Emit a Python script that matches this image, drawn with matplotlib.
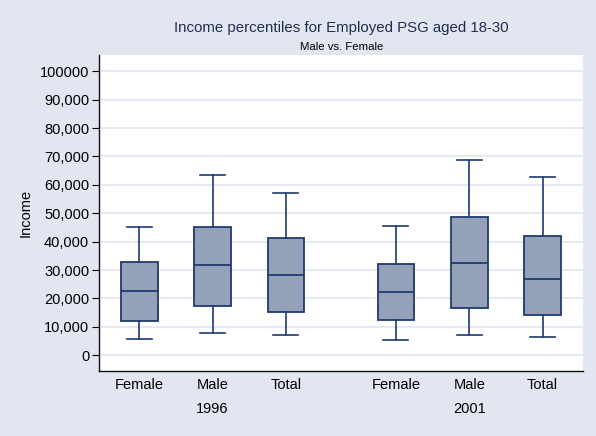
import matplotlib
matplotlib.use('Agg')
import matplotlib.pyplot as plt
import matplotlib.transforms as mtransforms

plt.rcParams['font.family'] = ['Liberation Sans', 'DejaVu Sans']

# Box plot statistics
groups = ['Female', 'Male', 'Total', 'Female', 'Male', 'Total']
years = ['1996', '2001']
whislo = [5700, 8000, 7300, 5500, 7100, 6400]
q1 = [12000, 17500, 15100, 12400, 16500, 14300]
med = [22500, 31700, 28400, 22300, 32400, 27000]
q3 = [32800, 45100, 41300, 32000, 48600, 42000]
whishi = [45200, 63500, 57100, 45600, 68700, 62900]
positions = [1, 2, 3, 4.5, 5.5, 6.5]

yticks = [0, 10000, 20000, 30000, 40000, 50000, 60000, 70000, 80000, 90000, 100000]
ytick_labels = ['0', '10,000', '20,000', '30,000', '40,000', '50,000',
                '60,000', '70,000', '80,000', '90,000', '100000']

bg = '#E1E6F0'
navy = '#1F3A6E'

fig = plt.figure(figsize=(5.96, 4.36), dpi=100, facecolor=bg)
ax = fig.add_axes([0.166, 0.149, 0.812, 0.725])
ax.set_facecolor('white')

stats = []
for i in range(len(groups)):
    stats.append({'whislo': whislo[i], 'q1': q1[i], 'med': med[i],
                  'q3': q3[i], 'whishi': whishi[i], 'fliers': []})

ax.bxp(stats, positions=positions, widths=0.5, patch_artist=True,
       showfliers=False,
       boxprops=dict(facecolor='#95A1B8', edgecolor=navy, linewidth=1.3),
       medianprops=dict(color=navy, linewidth=1.3),
       whiskerprops=dict(color=navy, linewidth=1.2),
       capprops=dict(color=navy, linewidth=1.2),
       capwidths=0.34, zorder=3)

ax.set_xlim(0.45, 7.05)
ax.set_ylim(-5550, 105750)
ax.set_yticks(yticks)
ax.set_yticklabels(ytick_labels, fontsize=10.5)
ax.set_xticks(positions)
ax.set_xticklabels(groups, fontsize=10.5)
ax.tick_params(axis='x', length=0, pad=5)
ax.tick_params(axis='y', length=5, width=0.8, pad=2)
ax.grid(axis='y', color='#E1E5F0', linewidth=1.2, zorder=0)
ax.set_axisbelow(True)

for s in ['top', 'right']:
    ax.spines[s].set_visible(False)
for s in ['left', 'bottom']:
    ax.spines[s].set_linewidth(1.0)
    ax.spines[s].set_color('#111111')

ax.set_ylabel('Income', fontsize=10.5, labelpad=5)

trans = mtransforms.blended_transform_factory(ax.transData, ax.transAxes)
ax.text(positions[1], -0.12, years[0], transform=trans, ha='center', va='center', fontsize=10.5)
ax.text(positions[4], -0.12, years[1], transform=trans, ha='center', va='center', fontsize=10.5)

fig.text(0.573, 0.935, 'Income percentiles for Employed PSG aged 18-30',
         ha='center', va='center', fontsize=10.8, color='#1F2D50')
fig.text(0.573, 0.893, 'Male vs. Female', ha='center', va='center', fontsize=8.2)

fig.savefig('out.png', dpi=100, facecolor=bg)
